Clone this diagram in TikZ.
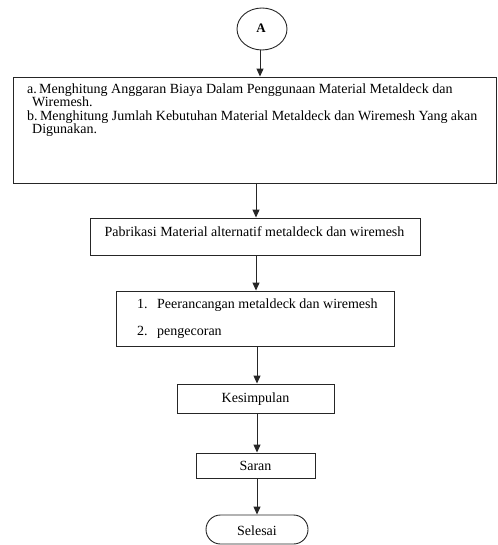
\documentclass[tikz,border=0pt]{standalone}
\usepackage{fontspec}
\setmainfont{Liberation Serif}
\usetikzlibrary{arrows.meta,shapes.geometric}
\begin{document}
\begin{tikzpicture}[x=1pt,y=-1pt,
  box/.style={draw=black!85,line width=0.9pt,inner sep=0pt},
  txt/.style={inner sep=0pt,anchor=base west,font=\fontsize{14}{16}\selectfont},
  ctxt/.style={inner sep=0pt,anchor=base,font=\fontsize{14}{16}\selectfont},
  arr/.style={draw=black!85,line width=1pt,-{Triangle[length=8pt,width=7pt]}}]
\useasboundingbox (0,0) rectangle (497,545);
% connector A
\node[draw=black!85,line width=0.9pt,ellipse,minimum width=50,minimum height=42,inner sep=0pt] (A) at (262,29) {};
\node[ctxt,font=\fontsize{13}{15}\selectfont\bfseries] (Atxt) at (261,33) {A};
% box 1
\node[box,minimum width=483,minimum height=106] (b1) at (254.5,130) {};
\node[txt] (t1a) at (27,94) {a.\,Menghitung Anggaran Biaya Dalam Penggunaan Material Metaldeck dan};
\node[txt] (t1b) at (32,107) {Wiremesh.};
\node[txt] (t1c) at (27,121) {b.\,Menghitung Jumlah Kebutuhan Material Metaldeck dan Wiremesh Yang akan};
\node[txt] (t1d) at (32,134) {Digunakan.};
% box 2
\node[box,minimum width=330,minimum height=37] (b2) at (255,236.5) {};
\node[ctxt] (t2) at (254.5,236) {Pabrikasi Material alternatif metaldeck dan wiremesh};
% box 3
\node[box,minimum width=278,minimum height=55] (b3) at (255,318.5) {};
\node[txt] (t3n1) at (137,308) {1.};
\node[txt] (t3a) at (157,308) {Peerancangan metaldeck dan wiremesh};
\node[txt] (t3n2) at (137,335) {2.};
\node[txt] (t3b) at (157,335) {pengecoran};
% box 4
\node[box,minimum width=157,minimum height=29] (b4) at (255.5,398.5) {};
\node[ctxt] (t4) at (255.5,402) {Kesimpulan};
% box 5
\node[box,minimum width=119,minimum height=25] (b5) at (255.5,465.5) {};
\node[ctxt] (t5) at (255.5,470) {Saran};
% end
\node[box,rounded corners=14.5pt,minimum width=102,minimum height=29] (end) at (257,529.5) {};
\node[ctxt] (t6) at (257,535) {Selesai};
% arrows
\coordinate (a0) at (260,50);
\draw[arr] (a0) -- (a0 |- b1.north);
\coordinate (a1) at (256,183);
\draw[arr] (a1) -- (a1 |- b2.north);
\coordinate (a2) at (256,255);
\draw[arr] (a2) -- (a2 |- b3.north);
\coordinate (a3) at (257,346);
\draw[arr] (a3) -- (a3 |- b4.north);
\coordinate (a4) at (257,413);
\draw[arr] (a4) -- (a4 |- b5.north);
\coordinate (a5) at (257,478);
\draw[arr] (a5) -- (a5 |- end.north);
\end{tikzpicture}
\end{document}
